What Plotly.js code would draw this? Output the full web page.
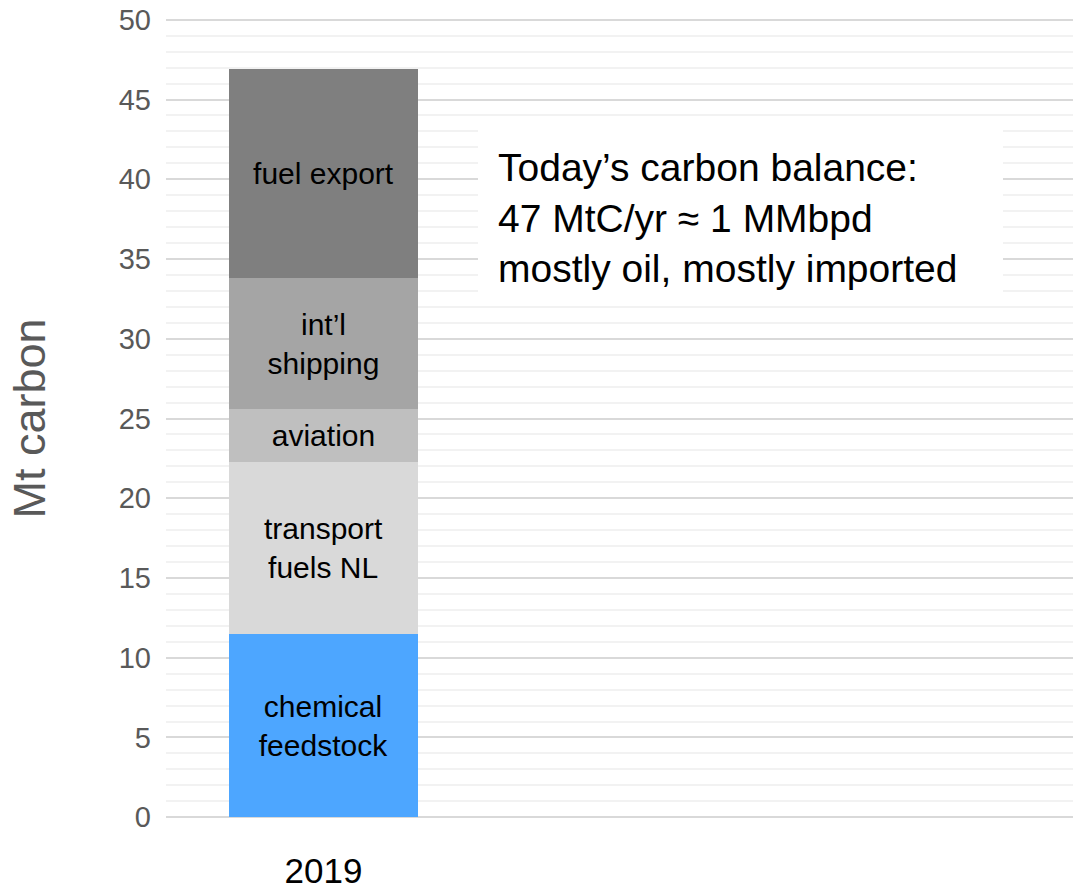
<!DOCTYPE html>
<html>
<head>
<meta charset="utf-8">
<script src="https://cdn.plot.ly/plotly-3.0.1.min.js"></script>
<style>html,body{margin:0;padding:0;background:#fff;}#chart{width:1073px;height:891px;}</style>
</head>
<body>
<div id="chart"></div>
<script>
const categories = ["2019"];
const seriesNames = ["chemical<br>feedstock", "transport<br>fuels NL", "aviation", "int’l<br>shipping", "fuel export"];
const seriesValues = [[11.5], [10.8], [3.3], [8.2], [13.1]];
const seriesColors = ["#4da6ff", "#d9d9d9", "#bfbfbf", "#a5a5a5", "#7f7f7f"];
const yMax = 50;
const yMajorStep = 5;
const yMinorStep = 1;
const noteText = "Today’s carbon balance:<br>47 MtC/yr ≈ 1 MMbpd<br>mostly oil, mostly imported";

const FONT = "Liberation Sans, Arial, sans-serif";
const W = 1073, H = 891;
const L = 166, T = 15, B = 69;
const plotH = H - T - B;
const px2x = px => (px - L) / (W - L);
const px2y = py => (H - B - py) / plotH;

const traces = seriesNames.map((name, i) => ({
  type: "bar",
  name: name,
  x: categories,
  y: seriesValues[i],
  marker: {color: seriesColors[i], line: {width: 0}},
  text: [name],
  texttemplate: "%{text}",
  textposition: "inside",
  insidetextanchor: "middle",
  textangle: 0,
  constraintext: "none",
  textfont: {family: FONT, size: 30, color: "#000"},
  hoverinfo: "skip"
}));

const layout = {
  width: W,
  height: H,
  margin: {l: L, r: 0, t: T, b: B},
  paper_bgcolor: "#fff",
  plot_bgcolor: "#fff",
  barmode: "stack",
  bargap: 0.4,
  showlegend: false,
  font: {family: FONT},
  xaxis: {
    type: "category",
    range: [-0.5, 2.38],
    showgrid: false,
    zeroline: false,
    showline: false,
    ticks: "",
    ticklabelstandoff: 25,
    tickfont: {family: FONT, size: 35, color: "#000"},
    automargin: false
  },
  yaxis: {
    range: [-0.3, yMax + 0.3],
    tickmode: "linear",
    tick0: 0,
    dtick: yMajorStep,
    showgrid: true,
    gridcolor: "#d9d9d9",
    gridwidth: 2,
    zeroline: true,
    zerolinecolor: "#d9d9d9",
    zerolinewidth: 2,
    showline: false,
    ticks: "",
    ticklabelstandoff: 14,
    tickfont: {family: FONT, size: 29, color: "#595959"},
    minor: {dtick: yMinorStep, showgrid: true, gridcolor: "#f2f2f2", gridwidth: 2},
    title: {text: "Mt carbon", font: {family: FONT, size: 45, color: "#595959"}, standoff: 58},
    automargin: false
  },
  shapes: [{
    type: "rect", xref: "paper", yref: "paper", layer: "above",
    x0: px2x(478), x1: px2x(1003), y0: px2y(300), y1: px2y(117),
    fillcolor: "#ffffff", line: {width: 0}
  }],
  annotations: [{
    xref: "paper", yref: "paper",
    x: px2x(497), y: px2y(145),
    xanchor: "left", yanchor: "top",
    text: noteText,
    showarrow: false,
    align: "left",
    font: {family: FONT, size: 39, color: "#000"},
    borderpad: 0
  }]
};

Plotly.newPlot("chart", traces, layout, {displayModeBar: false, staticPlot: true});
</script>
</body>
</html>
